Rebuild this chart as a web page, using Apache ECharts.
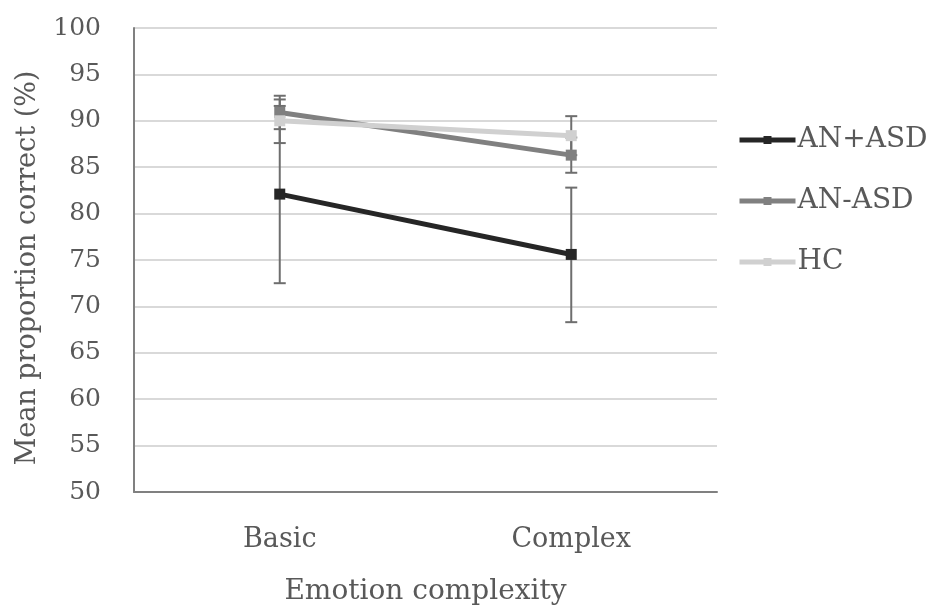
<!DOCTYPE html>
<html><head><meta charset="utf-8">
<script src="https://cdn.jsdelivr.net/npm/echarts@6/dist/echarts.min.js"></script>
<style>html,body{margin:0;padding:0;background:#fff}#c{width:930px;height:606px}</style>
</head><body><div id="c"></div>
<script>
var categories = ['Basic', 'Complex'];
var seriesNames = ['AN+ASD', 'AN-ASD', 'HC'];
var anPlusAsd = [82.1, 75.6];
var anPlusAsdLow = [72.5, 68.3];
var anPlusAsdHigh = [91.6, 82.8];
var anMinusAsd = [90.9, 86.3];
var anMinusAsdLow = [89.1, 84.4];
var anMinusAsdHigh = [92.7, 88.2];
var hc = [90.0, 88.4];
var hcLow = [87.6, 86.3];
var hcHigh = [92.3, 90.5];
var yTicks = [50, 55, 60, 65, 70, 75, 80, 85, 90, 95, 100];

var colors = ['#262626', '#808080', '#d0d0d0'];
var FONT = 'DejaVu Serif';

function errData(low, high) {
  return categories.map(function (c, i) { return [i, low[i], high[i]]; });
}
function errSeries(low, high) {
  return {
    type: 'custom', z: 1, silent: true,
    data: errData(low, high),
    encode: { x: 0, y: [1, 2] },
    renderItem: function (params, api) {
      var lo = api.coord([api.value(0), api.value(1)]);
      var hi = api.coord([api.value(0), api.value(2)]);
      var w = 6;
      var st = { stroke: '#6e6e6e', lineWidth: 2 };
      return { type: 'group', children: [
        { type: 'line', shape: { x1: lo[0], y1: lo[1], x2: hi[0], y2: hi[1] }, style: st },
        { type: 'line', shape: { x1: lo[0] - w, y1: lo[1], x2: lo[0] + w, y2: lo[1] }, style: st },
        { type: 'line', shape: { x1: hi[0] - w, y1: hi[1], x2: hi[0] + w, y2: hi[1] }, style: st }
      ]};
    }
  };
}
function lineSeries(name, data, color, width) {
  return {
    name: name, type: 'line', data: data, z: 3,
    symbol: 'rect', symbolSize: 11,
    itemStyle: { color: color },
    lineStyle: { color: color, width: width },
    emphasis: { disabled: true }
  };
}

var chart = echarts.init(document.getElementById('c'));
chart.setOption({
  animation: false,
  textStyle: { fontFamily: FONT },
  grid: { left: 134, right: 213, top: 28, bottom: 114, containLabel: false, outerBoundsMode: 'none' },
  legend: {
    orient: 'vertical', left: 737, top: 125, padding: 0,
    itemWidth: 56, itemHeight: 10, itemGap: 31,
    data: seriesNames.map(function (n, i) {
      return { name: n, lineStyle: { width: 5, color: colors[i] }, itemStyle: { color: colors[i] } };
    }),
    textStyle: { fontFamily: FONT, fontSize: 28, color: '#595959', lineHeight: 30, padding: [0, 0, 0, -3] }
  },
  xAxis: {
    type: 'category', data: categories, boundaryGap: true,
    axisLine: { lineStyle: { color: '#808080', width: 2 } },
    axisTick: { show: false },
    axisLabel: { fontFamily: FONT, fontSize: 27, color: '#595959', margin: 34 },
    name: 'Emotion complexity', nameLocation: 'middle', nameGap: 86,
    nameTextStyle: { fontFamily: FONT, fontSize: 28, color: '#595959' }
  },
  yAxis: {
    type: 'value', min: yTicks[0], max: yTicks[yTicks.length - 1], interval: 5,
    axisLine: { show: true, lineStyle: { color: '#808080', width: 2 } },
    axisTick: { show: false },
    splitLine: { lineStyle: { color: '#d9d9d9', width: 2 } },
    axisLabel: { fontFamily: FONT, fontSize: 25, color: '#595959', margin: 33 },
    name: 'Mean proportion correct (%)', nameLocation: 'middle', nameGap: 93,
    nameTextStyle: { fontFamily: FONT, fontSize: 27, color: '#595959', padding: [0, 0, 0, -16] }
  },
  series: [
    errSeries(anPlusAsdLow, anPlusAsdHigh),
    errSeries(anMinusAsdLow, anMinusAsdHigh),
    errSeries(hcLow, hcHigh),
    lineSeries(seriesNames[0], anPlusAsd, colors[0], 5),
    lineSeries(seriesNames[1], anMinusAsd, colors[1], 5),
    lineSeries(seriesNames[2], hc, colors[2], 5)
  ]
});
</script></body></html>
